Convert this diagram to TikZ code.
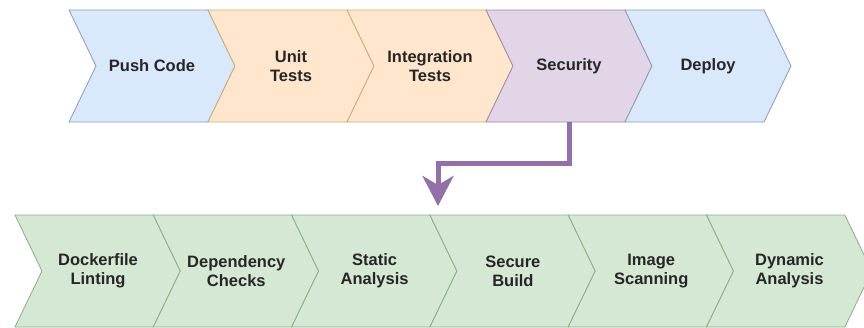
\documentclass[tikz,border=0pt]{standalone}
\usepackage{fontspec}
\setsansfont{Liberation Sans}
\usetikzlibrary{arrows.meta}

\definecolor{bluefill}{HTML}{DAE8FC}
\definecolor{bluedraw}{HTML}{8A9CB6}
\definecolor{orangefill}{HTML}{FFE6CC}
\definecolor{orangedraw}{HTML}{C8AE78}
\definecolor{purplefill}{HTML}{E1D5E7}
\definecolor{purpledraw}{HTML}{9C8CA6}
\definecolor{greenfill}{HTML}{D5E8D4}
\definecolor{greendraw}{HTML}{8FAA88}
\definecolor{flowpurple}{HTML}{9370A8}

\begin{document}
\begin{tikzpicture}[x=1pt,y=-1pt,
    stage/.style={font=\sffamily\bfseries\fontsize{16.5}{19}\selectfont, text=black!85,
        align=center, inner sep=0pt, minimum height=112pt},
    chev/.style={line width=0.8pt}]
\clip (0,0) rectangle (864,327);
\fill[white] (0,0) rectangle (864,327);

\foreach \x/\f/\d in {69/bluefill/bluedraw, 208/orangefill/orangedraw, 347/orangefill/orangedraw,
                      486/purplefill/purpledraw, 625/bluefill/bluedraw}
    \draw[chev, fill=\f, draw=\d] (\x,10) -- ++(139,0) -- ++(27,56) -- ++(-27,56)
        -- ++(-139,0) -- ++(27,-56) -- cycle;

\foreach \x in {15, 153.3, 291.6, 429.9, 568.2, 706.5}
    \draw[chev, fill=greenfill, draw=greendraw] (\x,215) -- ++(138.3,0) -- ++(27,56) -- ++(-27,56)
        -- ++(-138.3,0) -- ++(27,-56) -- cycle;

\node[stage] (push) at (152,66) {Push Code};
\node[stage] (unit) at (291,66) {Unit\\Tests};
\node[stage] (integ) at (430,66) {Integration\\Tests};
\node[stage] (sec) at (569,66) {Security};
\node[stage] (deploy) at (708,66) {Deploy};

\node[stage] (lint) at (98,271) {Dockerfile\\Linting};
\node[stage] (deps) at (236.3,271) {Dependency\\Checks};
\node[stage] (static) at (374.6,271) {Static\\Analysis};
\node[stage] (build) at (512.9,271) {Secure\\Build};
\node[stage] (scan) at (651.2,271) {Image\\Scanning};
\node[stage] (dyn) at (789.5,271) {Dynamic\\Analysis};

\coordinate (drop) at (438,206);
\draw[line width=5pt, draw=flowpurple, line join=miter,
      -{Stealth[length=30pt,width=31pt,inset=9pt]}] (sec.south) -- ++(0,41) -| (drop);
\end{tikzpicture}
\end{document}
